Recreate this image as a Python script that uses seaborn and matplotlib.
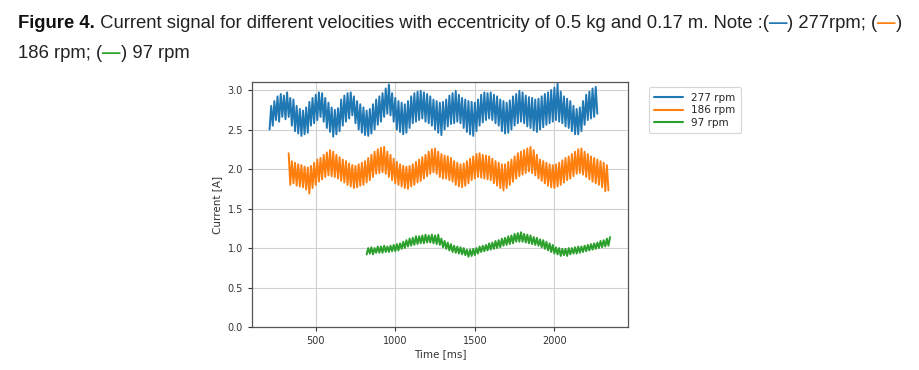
import numpy as np
import pandas as pd
import matplotlib
matplotlib.use("Agg")
import matplotlib.pyplot as plt
import seaborn as sns
from matplotlib import font_manager

# ---------------- data ----------------
labels = ["277 rpm", "186 rpm", "97 rpm"]
colors = ["#1f77b4", "#ff7f0e", "#2ca02c"]
x_ticks = [500, 1000, 1500, 2000]
y_ticks = [0.0, 0.5, 1.0, 1.5, 2.0, 2.5, 3.0]

# sampling: start time [ms], step [ms]
t0_277, dt_277 = 210, 10
t0_186, dt_186 = 330, 10
t0_97, dt_97 = 820, 10

i_277 = [
    2.50, 2.80, 2.55, 2.86, 2.62, 2.92, 2.60, 2.95, 2.66, 2.93,
    2.63, 2.97, 2.66, 2.90, 2.55, 2.88, 2.48, 2.80, 2.45, 2.76,
    2.42, 2.74, 2.44, 2.78, 2.46, 2.85, 2.55, 2.90, 2.58, 2.94,
    2.62, 2.97, 2.66, 2.96, 2.60, 2.90, 2.52, 2.84, 2.47, 2.78,
    2.41, 2.75, 2.44, 2.77, 2.48, 2.88, 2.55, 2.93, 2.60, 2.96,
    2.64, 2.97, 2.68, 2.92, 2.58, 2.86, 2.50, 2.82, 2.46, 2.78,
    2.43, 2.74, 2.42, 2.76, 2.45, 2.82, 2.50, 2.88, 2.56, 2.92,
    2.60, 2.96, 2.66, 3.02, 2.70, 3.07, 2.68, 2.96, 2.60, 2.90,
    2.50, 2.86, 2.47, 2.84, 2.44, 2.82, 2.46, 2.86, 2.52, 2.92,
    2.58, 2.96, 2.60, 2.98, 2.62, 2.99, 2.64, 2.97, 2.60, 2.95,
    2.58, 2.92, 2.55, 2.88, 2.50, 2.86, 2.46, 2.84, 2.43, 2.85,
    2.50, 2.88, 2.54, 2.93, 2.57, 2.96, 2.58, 2.99, 2.60, 2.94,
    2.58, 2.90, 2.52, 2.88, 2.47, 2.86, 2.44, 2.85, 2.42, 2.84,
    2.48, 2.88, 2.55, 2.94, 2.59, 2.97, 2.62, 2.96, 2.64, 2.97,
    2.62, 2.94, 2.58, 2.92, 2.55, 2.88, 2.48, 2.86, 2.45, 2.84,
    2.46, 2.87, 2.50, 2.92, 2.55, 2.95, 2.58, 2.99, 2.60, 2.97,
    2.58, 2.93, 2.54, 2.91, 2.52, 2.90, 2.49, 2.88, 2.47, 2.89,
    2.50, 2.92, 2.53, 2.95, 2.56, 2.97, 2.58, 3.00, 2.60, 3.03,
    2.62, 3.08, 2.60, 2.98, 2.58, 2.92, 2.54, 2.89, 2.52, 2.86,
    2.48, 2.80, 2.44, 2.76, 2.44, 2.78, 2.48, 2.86, 2.56, 2.94,
    2.62, 2.98, 2.64, 3.02, 2.66, 3.04, 2.70]

i_186 = [
    2.20, 1.80, 2.10, 1.82, 2.08, 1.79, 2.06, 1.78,
    2.05, 1.77, 2.03, 1.74, 2.02, 1.69, 2.04, 1.76, 2.08, 1.80,
    2.12, 1.84, 2.14, 1.87, 2.18, 1.90, 2.21, 1.92, 2.24, 1.91,
    2.22, 1.90, 2.18, 1.88, 2.15, 1.85, 2.12, 1.83, 2.10, 1.80,
    2.07, 1.78, 2.05, 1.76, 2.04, 1.77, 2.06, 1.79, 2.08, 1.80,
    2.10, 1.83, 2.14, 1.86, 2.18, 1.90, 2.22, 1.94, 2.25, 1.95,
    2.27, 1.96, 2.28, 1.94, 2.22, 1.90, 2.18, 1.86, 2.13, 1.82,
    2.09, 1.80, 2.06, 1.78, 2.04, 1.76, 2.03, 1.75, 2.04, 1.78,
    2.06, 1.80, 2.09, 1.83, 2.12, 1.85, 2.15, 1.88, 2.18, 1.91,
    2.22, 1.94, 2.25, 1.96, 2.26, 1.94, 2.22, 1.90, 2.19, 1.88,
    2.17, 1.88, 2.16, 1.86, 2.14, 1.84, 2.10, 1.80, 2.08, 1.78,
    2.06, 1.77, 2.07, 1.79, 2.10, 1.82, 2.13, 1.86, 2.16, 1.88,
    2.19, 1.90, 2.20, 1.89, 2.18, 1.88, 2.17, 1.87, 2.16, 1.86,
    2.13, 1.82, 2.10, 1.79, 2.08, 1.76, 2.06, 1.73, 2.06, 1.76,
    2.09, 1.80, 2.12, 1.84, 2.16, 1.88, 2.20, 1.91, 2.22, 1.93,
    2.24, 1.95, 2.26, 1.97, 2.28, 1.95, 2.24, 1.92, 2.18, 1.88,
    2.12, 1.85, 2.10, 1.82, 2.08, 1.79, 2.06, 1.77, 2.05, 1.76,
    2.06, 1.78, 2.08, 1.80, 2.11, 1.83, 2.14, 1.86, 2.16, 1.88,
    2.19, 1.91, 2.22, 1.94, 2.25, 1.95, 2.26, 1.93, 2.22, 1.90,
    2.19, 1.87, 2.16, 1.84, 2.14, 1.82, 2.12, 1.80, 2.10, 1.77,
    2.08, 1.72, 2.05, 1.73]

i_97 = [
    0.92, 1.00, 0.93, 1.01, 0.92, 1.00, 0.94, 1.02, 0.94,
    1.02, 0.94, 1.03, 0.95, 1.02, 0.95, 1.03, 0.96, 1.04, 0.96,
    1.05, 0.97, 1.06, 0.99, 1.08, 1.00, 1.10, 1.02, 1.12, 1.03,
    1.13, 1.04, 1.15, 1.05, 1.15, 1.06, 1.16, 1.06, 1.17, 1.07,
    1.16, 1.07, 1.17, 1.06, 1.16, 1.05, 1.17, 1.04, 1.12, 1.01,
    1.09, 0.99, 1.07, 0.97, 1.05, 0.95, 1.03, 0.94, 1.02, 0.93,
    1.01, 0.92, 1.00, 0.91, 0.98, 0.89, 0.98, 0.90, 0.99, 0.91,
    1.00, 0.93, 1.02, 0.95, 1.03, 0.96, 1.04, 0.97, 1.06, 0.98,
    1.07, 0.99, 1.09, 1.00, 1.10, 1.01, 1.12, 1.03, 1.13, 1.04,
    1.15, 1.05, 1.16, 1.06, 1.18, 1.08, 1.19, 1.08, 1.20, 1.08,
    1.18, 1.07, 1.17, 1.06, 1.16, 1.05, 1.14, 1.04, 1.13, 1.03,
    1.11, 1.01, 1.10, 0.99, 1.08, 0.97, 1.06, 0.95, 1.04, 0.93,
    1.01, 0.92, 1.00, 0.90, 0.99, 0.91, 0.99, 0.90, 1.00, 0.92,
    1.00, 0.93, 1.01, 0.93, 1.02, 0.94, 1.02, 0.95, 1.03, 0.96,
    1.04, 0.97, 1.05, 0.98, 1.06, 0.99, 1.07, 1.00, 1.09, 1.01,
    1.10, 1.02, 1.12, 1.03, 1.14]

series = [(labels[0], t0_277, dt_277, i_277),
          (labels[1], t0_186, dt_186, i_186),
          (labels[2], t0_97, dt_97, i_97)]
frames = []
for name, t0, dt, vals in series:
    frames.append(pd.DataFrame({"Time": t0 + dt * np.arange(len(vals)),
                                "Current": vals, "Speed": name}))
df = pd.concat(frames, ignore_index=True)

# ---------------- style ----------------
sns.set_style("ticks")
avail = {f.name for f in font_manager.fontManager.ttflist}
cap_font = "Liberation Sans Narrow" if "Liberation Sans Narrow" in avail else "Liberation Sans"
plt.rcParams["font.family"] = ["DejaVu Sans"]

fig = plt.figure(figsize=(9.2, 3.7), dpi=100)
ax = fig.add_axes([0.274, 0.116, 0.409, 0.662])

sns.lineplot(data=df, x="Time", y="Current", hue="Speed", hue_order=labels,
             palette=colors, estimator=None, sort=False, linewidth=1.4, ax=ax)

ax.set_xlim(100, 2465)
ax.set_ylim(0, 3.1)
ax.set_xticks(x_ticks)
ax.set_yticks(y_ticks)
ax.set_yticklabels([f"{v:.1f}" for v in y_ticks])
ax.grid(True, color="#d0d0d0", linewidth=0.8)
ax.set_axisbelow(True)
for s in ax.spines.values():
    s.set_color("#555555")
    s.set_linewidth(0.9)
ax.tick_params(labelsize=7, colors="#333333", length=3, width=0.8)
ax.set_xlabel("Time [ms]", fontsize=7.5, color="#333333", labelpad=2)
ax.set_ylabel("Current [A]", fontsize=7.5, color="#333333", labelpad=4)

handles, labs = ax.get_legend_handles_labels()
leg = ax.legend(handles, labs, loc="upper left", bbox_to_anchor=(1.04, 1.0),
                fontsize=7.5, frameon=True, handlelength=2.8, borderpad=0.5,
                labelspacing=0.25)
leg.get_frame().set_edgecolor("#cccccc")
leg.get_frame().set_linewidth(0.8)
for h in leg.get_lines():
    h.set_linewidth(1.5)

# ---------------- caption ----------------
renderer = fig.canvas.get_renderer()
line1 = [("Figure 4.", "bold", "#111111"),
         (" Current signal for different velocities with eccentricity of 0.5 kg and 0.17 m. Note :(", "normal", "#222222"),
         ("\u2014", "bold", colors[0]),
         (") 277rpm; (", "normal", "#222222"),
         ("\u2014", "bold", colors[1]),
         (")", "normal", "#222222")]
line2 = [("186 rpm; (", "normal", "#222222"),
         ("\u2014", "bold", colors[2]),
         (") 97 rpm", "normal", "#222222")]


def draw_line(pieces, y_px, size, x_px=18):
    x = x_px
    arts = []
    for txt, w, c in pieces:
        t = fig.text(x / 920, 1 - y_px / 370, txt, fontsize=size, fontweight=w,
                     color=c, family=[cap_font, "DejaVu Sans"], va="baseline", ha="left")
        bb = t.get_window_extent(renderer)
        x += bb.width
        arts.append(t)
    return x, arts


size = 12
end, arts = draw_line(line1, 27, size)
for a in arts:
    a.remove()
size = size * (905 - 18) / (end - 18)
draw_line(line1, 28, size)
draw_line(line2, 58, size)

fig.savefig("out.png", dpi=100)
